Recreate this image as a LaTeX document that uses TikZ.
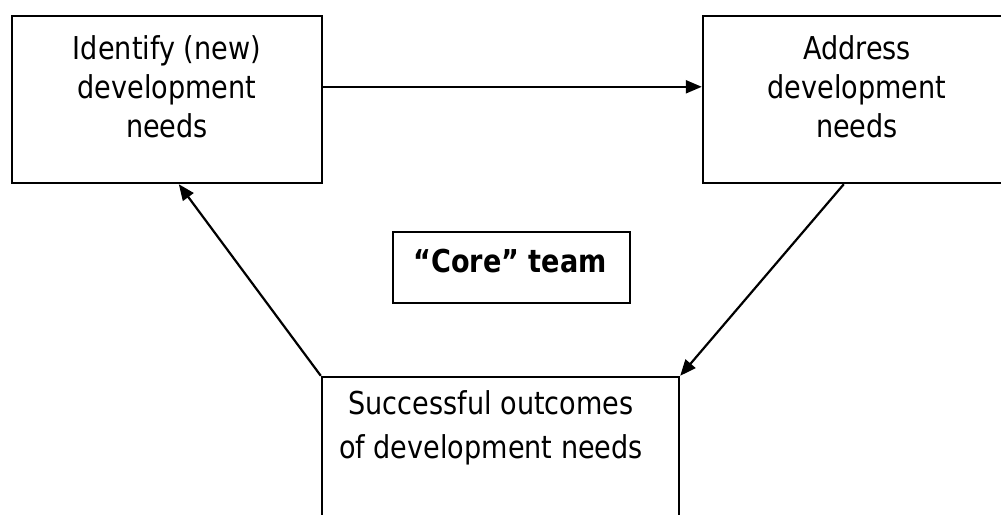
\documentclass[tikz,border=0pt]{standalone}
\usepackage{fontspec}
\setmainfont[FakeStretch=0.86]{DejaVu Sans}
\usetikzlibrary{arrows.meta}
\begin{document}
\begin{tikzpicture}[x=1pt,y=-1pt,
  box/.style={draw=black,line width=2.4pt,rectangle,inner sep=0pt},
  txt/.style={align=center,inner sep=0pt,anchor=base,font=\fontsize{31.5}{39}\selectfont},
  conn/.style={line width=2.2pt,-{Triangle[length=16pt,width=13pt]}}]
\useasboundingbox (0,0) rectangle (1001,514);
\clip (0,0) rectangle (1001,514);
\fill[white] (0,0) rectangle (1001,514);
\node[box,minimum width=310pt,minimum height=167pt] (A) at (167,99.5) {};
\node[box,minimum width=308pt,minimum height=167pt] (B) at (857,99.5) {};
\node[box,minimum width=357pt,minimum height=160pt] (C) at (500.5,457) {};
\node[box,minimum width=237pt,minimum height=71pt] (T) at (511.5,267.5) {};
\node[txt] (At) at (167,137) {Identify (new)\\development\\needs};
\node[txt] (Bt) at (857,137) {Address\\development\\needs};
\node[txt,font=\fontsize{31.5}{43.5}\selectfont] (Ct) at (491,458) {Successful outcomes\\of development needs};
\node[txt,font=\fontsize{31.5}{39}\selectfont\bfseries] (Tt) at (510,272) {“Core” team};
\draw[conn] ([yshift=-72pt]A.north east) -- ([yshift=-72pt]B.north west);
\draw[conn] ([xshift=142pt]B.south west) -- (C.north east);
\draw[conn] (C.north west) -- ([xshift=168pt]A.south west);
\end{tikzpicture}
\end{document}
